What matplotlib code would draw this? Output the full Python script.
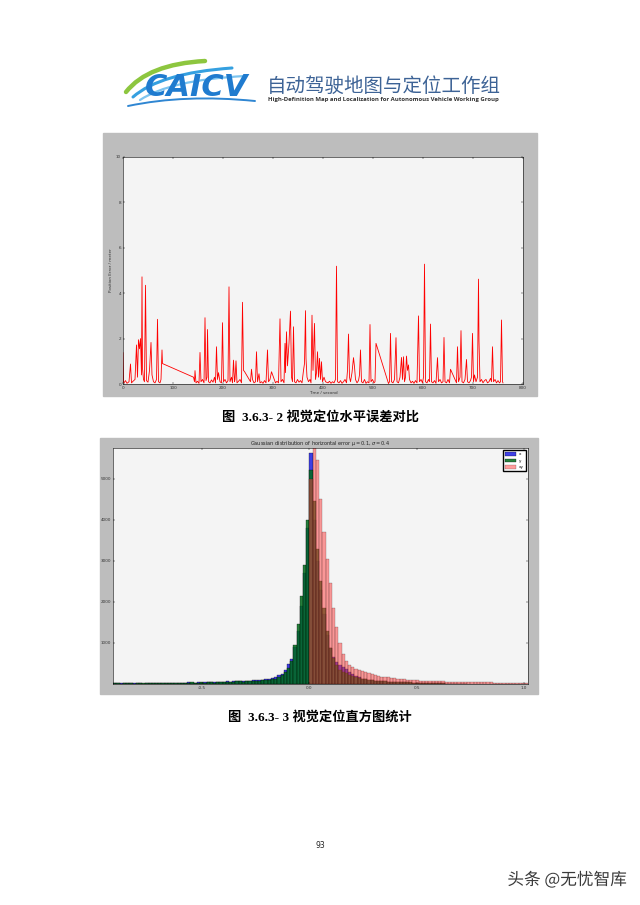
import numpy as np
import matplotlib.pyplot as plt
import matplotlib.patheffects as pe
from matplotlib.patches import Rectangle, PathPatch
from matplotlib.path import Path

plt.rcParams['font.family'] = ['DejaVu Sans']
plt.rcParams['axes.unicode_minus'] = False

# ---- 图 3.6.3-2 : 水平误差随时间 ----
time_s = [0, 1, 2, 5, 8, 12, 15, 17, 20, 24,
          27, 29, 31, 33, 35, 37, 38, 39, 41, 43,
          45, 47, 50, 53, 56, 58, 61, 64, 67, 69,
          71, 74, 76, 78, 79, 141, 143, 144, 146, 149,
          152, 154, 156, 159, 162, 164, 166, 168, 169, 171,
          174, 177, 180, 183, 185, 187, 189, 191, 194, 197,
          199, 201, 204, 207, 210, 212, 214, 217, 219, 221,
          223, 224, 226, 228, 231, 234, 237, 239, 241, 243,
          255, 257, 259, 262, 265, 267, 269, 272, 274, 277,
          280, 283, 286, 289, 291, 294, 297, 305, 308, 311,
          314, 316, 319, 322, 324, 325, 327, 329, 332, 335,
          337, 339, 341, 343, 346, 349, 352, 355, 358, 361,
          363, 365, 366, 368, 371, 374, 376, 378, 380, 383,
          385, 387, 389, 391, 393, 395, 397, 399, 402, 405,
          410, 413, 416, 419, 422, 425, 427, 429, 432, 435,
          438, 441, 444, 447, 449, 451, 453, 455, 458, 461,
          463, 465, 468, 471, 473, 475, 477, 480, 483, 486,
          489, 492, 494, 496, 499, 502, 504, 506, 531, 533,
          535, 537, 540, 543, 546, 548, 551, 554, 557, 559,
          561, 563, 565, 567, 569, 571, 573, 576, 579, 582,
          585, 588, 591, 593, 596, 599, 601, 603, 605, 608,
          611, 613, 615, 617, 620, 623, 626, 629, 631, 634,
          637, 640, 642, 644, 647, 650, 653, 655, 667, 669,
          671, 674, 676, 678, 681, 684, 687, 689, 692, 695,
          697, 699, 701, 703, 706, 709, 711, 712, 714, 717,
          720, 723, 726, 729, 732, 735, 737, 739, 741, 744,
          747, 750, 753, 755, 757, 759, 760]
error_m = [1.38, 0.1, 0.05, 0.15, 0.03, 0.1, 0.88, 0.05, 0.12, 0.2,
           1.72, 0.3, 1.95, 1.55, 2.0, 0.4, 4.72, 0.7, 0.2, 0.1,
           4.35, 0.15, 0.08, 0.6, 1.83, 0.4, 0.1, 0.05, 0.2, 2.85,
           0.1, 0.05, 0.2, 1.5, 0.9, 0.3, 0.1, 0.59, 0.05, 0.12,
           0.03, 1.39, 0.1, 0.2, 0.05, 2.92, 0.15, 0.3, 2.4, 0.1,
           0.05, 0.18, 0.08, 0.3, 0.05, 1.64, 0.2, 0.5, 0.1, 0.05,
           2.7, 0.1, 0.2, 0.05, 0.15, 4.28, 0.1, 0.3, 0.05, 1.05,
           0.1, 0.2, 1.02, 0.05, 0.12, 0.2, 0.05, 3.6, 0.6, 0.55,
           0.1, 0.65, 0.2, 0.05, 0.1, 1.42, 0.1, 0.45, 0.05, 0.1,
           0.03, 0.15, 0.05, 1.5, 0.1, 0.2, 0.54, 0.05, 0.12, 0.05,
           2.87, 0.1, 0.2, 0.05, 1.79, 0.5, 2.3, 0.8, 1.8, 3.21,
           0.3, 0.1, 2.52, 0.1, 0.05, 0.2, 0.08, 0.15, 0.05, 0.6,
           0.9, 3.23, 1.13, 0.3, 0.1, 0.2, 0.05, 3.03, 0.6, 2.67,
           0.2, 0.5, 1.42, 0.3, 1.13, 0.2, 0.98, 0.1, 0.3, 0.1,
           0.05, 0.12, 0.03, 0.1, 0.05, 0.2, 5.19, 0.1, 0.05, 0.15,
           0.03, 0.1, 0.2, 0.05, 0.6, 2.2, 0.3, 0.1, 0.5, 1.16,
           0.76, 0.2, 0.05, 0.15, 0.4, 1.5, 0.1, 0.05, 0.2, 0.03,
           0.1, 0.05, 2.62, 0.1, 0.2, 0.05, 0.1, 1.79, 0.02, 0.1,
           2.23, 0.1, 0.05, 0.2, 2.04, 0.1, 0.05, 0.3, 1.17, 0.2,
           1.2, 0.1, 0.3, 1.23, 0.6, 0.84, 0.2, 0.05, 0.12, 0.03,
           0.15, 0.05, 3.0, 0.1, 0.2, 0.05, 0.3, 5.28, 0.1, 0.05,
           0.2, 0.1, 2.64, 0.1, 0.05, 0.15, 0.03, 1.16, 0.1, 0.2,
           0.05, 0.1, 2.05, 0.1, 0.05, 0.2, 0.05, 0.65, 0.05, 1.64,
           0.1, 0.3, 2.35, 0.1, 0.05, 0.2, 1.08, 0.1, 0.05, 0.15,
           0.3, 2.23, 0.1, 0.4, 0.1, 0.3, 4.62, 1.9, 0.1, 0.2,
           0.05, 0.15, 0.2, 0.05, 0.1, 0.25, 0.1, 1.64, 0.1, 0.2,
           0.05, 0.15, 0.05, 0.1, 2.82, 0.1, 0.05]

# ---- 图 3.6.3-3 : 直方图 (每格 0.015 m) ----
bin_w = 0.015
xy_start = 0.0      # xy 从 0 开始
xyz_start = -1.065  # x / y 的第一格左边界
count_xy = [5000, 6000, 5450, 4500, 3700, 3050, 2450, 1850, 1400, 1000,
            720, 560, 470, 410, 370, 340, 320, 290, 270, 240,
            220, 200, 180, 170, 160, 150, 140, 130, 120, 110,
            105, 100, 95, 90, 85, 80, 80, 75, 70, 70,
            65, 65, 60, 60, 55, 55, 55, 50, 50, 50,
            45, 45, 45, 40, 40, 40, 40, 35, 35, 35,
            35, 30, 30, 30, 30, 25, 25, 25]
count_y = [20, 5, 15, 25, 10, 5, 20, 15, 10, 20,
           15, 25, 10, 20, 30, 15, 10, 25, 20, 15,
           25, 20, 30, 15, 25, 20, 35, 30, 20, 25,
           30, 25, 35, 30, 40, 25, 35, 40, 30, 45,
           40, 35, 50, 45, 55, 50, 60, 55, 65, 70,
           60, 70, 70, 80, 80, 85, 90, 95, 100, 110,
           130, 160, 220, 290, 380, 560, 950, 1450, 2150, 2900,
           4000, 5220, 4450, 3300, 2500, 1850, 1280, 880, 630, 470,
           350, 300, 260, 220, 190, 160, 140, 120, 110, 100,
           90, 80, 75, 70, 65, 60, 55, 50, 50, 45,
           45, 40, 40, 35, 35, 30, 30, 25, 25, 20,
           20, 15, 15, 10, 10, 10, 5, 5, 5, 0]
count_x = [25, 10, 20, 15, 20, 0, 25, 10, 20, 15,
           20, 15, 25, 15, 20, 30, 15, 20, 25, 10,
           20, 30, 25, 20, 30, 25, 30, 35, 25, 30,
           35, 30, 30, 40, 35, 30, 45, 35, 45, 40,
           50, 45, 55, 50, 60, 65, 55, 65, 70, 75,
           70, 80, 75, 90, 95, 100, 95, 110, 120, 150,
           170, 210, 250, 340, 480, 600, 900, 1300, 1900, 2700,
           3800, 5630, 4000, 3000, 2300, 1700, 1200, 880, 650, 540,
           470, 420, 360, 300, 240, 190, 160, 130, 115, 105,
           95, 85, 80, 70, 65, 60, 55, 55, 50, 45,
           45, 40, 35, 35, 30, 30, 25, 25, 20, 20,
           15, 15, 15, 10, 10, 5, 5, 5, 0, 0]

fig = plt.figure(figsize=(6.4, 9.05), dpi=100)

# 整页 (像素坐标)
page = fig.add_axes([0, 0, 1, 1])
page.set_xlim(0, 640)
page.set_ylim(905, 0)
page.axis('off')

# 页眉 logo
def curve(p0, p1, p2, c, lw):
    path = Path([p0, p1, p2], [Path.MOVETO, Path.CURVE3, Path.CURVE3])
    page.add_patch(PathPatch(path, fill=False, edgecolor=c, lw=lw, capstyle='round'))

curve((126, 92), (148, 64), (205, 61), '#8dc63f', 3.2)
curve((133, 97), (160, 73), (232, 68), '#35a0e0', 2.2)
curve((140, 100), (170, 80), (245, 76), '#7cc4ef', 1.6)
curve((128, 106), (185, 94), (255, 101), '#2f86d2', 1.4)
page.text(145, 87, 'CAICV', fontsize=22, fontweight='bold', style='italic',
          color='#1f7bcf', va='center', ha='left')
page.text(267, 86, '自动驾驶地图与定位工作组', fontsize=14, color='#3d6396',
          fontweight='light', va='center', ha='left', family=['Noto Sans CJK SC'])
page.text(268, 100, 'High-Definition Map and Localization for Autonomous Vehicle Working Group',
          fontsize=4.3, fontweight='bold', color='#333333', va='center', ha='left',
          family=['Open Sans'])

# 灰色图框
page.add_patch(Rectangle((103, 133), 434, 263, color='#bdbdbd'))
page.add_patch(Rectangle((100, 438), 438, 256, color='#bdbdbd'))

# 图注
cap_font = ['Liberation Serif', 'Noto Sans CJK SC']
page.text(320, 417, '图  3.6.3- 2 视觉定位水平误差对比', fontsize=9.5, fontweight='bold',
          ha='center', va='center', family=cap_font)
page.text(320, 717, '图  3.6.3- 3 视觉定位直方图统计', fontsize=9.5, fontweight='bold',
          ha='center', va='center', family=cap_font)
page.text(320, 845, '93', fontsize=5.5, ha='center', va='center', color='#222222')
page.text(567, 880, '头条 @无忧智库', fontsize=12, ha='center', va='center', color='#3a3a3a',
          fontweight='light', family=['Noto Sans CJK SC', 'DejaVu Sans'],
          path_effects=[pe.withStroke(linewidth=1.5, foreground='white')])

# ---- 上图 ----
ax1 = fig.add_axes([123 / 640, 1 - 384 / 905, 400 / 640, 227 / 905])
ax1.set_facecolor('#f4f4f4')
ax1.plot(time_s, error_m, color='red', lw=0.6)
ax1.set_xlim(0, 800)
ax1.set_ylim(0, 10)
ax1.set_xticks(range(0, 801, 100))
ax1.set_yticks(range(0, 11, 2))
ax1.tick_params(labelsize=3, length=1.5, width=0.3, direction='in', top=True, right=True,
                pad=1.5, labelcolor='#333333')
ax1.set_xlabel('Time / second', fontsize=3, labelpad=1, color='#333333')
ax1.set_ylabel('Position Error / meter', fontsize=3, labelpad=2, color='#333333')
for s in ax1.spines.values():
    s.set_linewidth(0.4)

# ---- 下图 ----
ax2 = fig.add_axes([113 / 640, 1 - 684 / 905, 415 / 640, 236 / 905])
ax2.set_facecolor('#f4f4f4')
left_xy = xy_start + bin_w * np.arange(len(count_xy))
left_x = xyz_start + bin_w * np.arange(len(count_x))
ax2.bar(left_x, count_x, width=bin_w, align='edge', color='#1010e0', alpha=0.8,
        edgecolor='black', lw=0.25, label='x')
ax2.bar(left_x, count_y, width=bin_w, align='edge', color='#006b1a', alpha=0.85,
        edgecolor='black', lw=0.25, label='y')
ax2.bar(left_xy, count_xy, width=bin_w, align='edge', color='#ff3a3a', alpha=0.5,
        edgecolor='black', lw=0.25, label='xy')
ax2.set_xlim(-0.916, 1.019)
ax2.set_ylim(0, 5750)
ax2.set_xticks([-0.5, 0.0, 0.5, 1.0])
ax2.set_yticks([1000, 2000, 3000, 4000, 5000])
ax2.tick_params(labelsize=3, length=1.5, width=0.3, direction='in', top=True, right=True,
                pad=1.5, labelcolor='#333333')
ax2.set_title('Gaussian distribution of horizontal error $\\mu=0.1,\\sigma=0.4$',
              fontsize=3.6, pad=2, color='#222222')
ax2.legend(loc='upper right', fontsize=3, handlelength=2.6, handleheight=1.0,
           fancybox=False, edgecolor='black', borderpad=0.5, framealpha=1)
for s in ax2.spines.values():
    s.set_linewidth(0.4)

fig.savefig('out.png', dpi=100)
